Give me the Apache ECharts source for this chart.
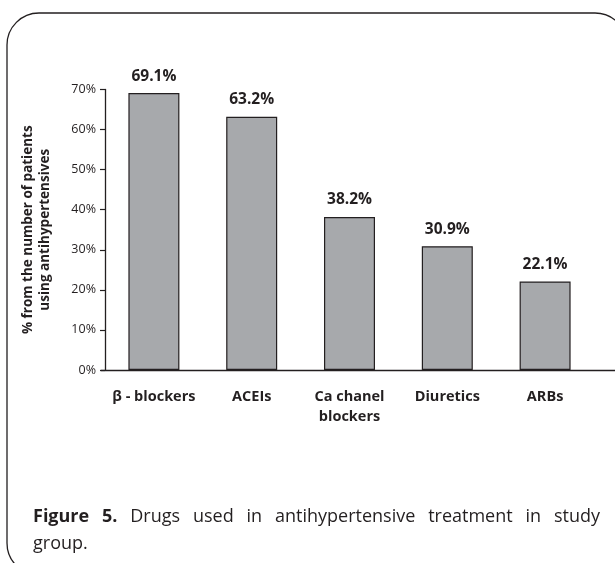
<!DOCTYPE html>
<html>
<head>
<meta charset="utf-8">
<style>
  html, body { margin: 0; padding: 0; background: #fff; }
  #chart { width: 615px; height: 563px; }
</style>
<script src="https://cdn.jsdelivr.net/npm/echarts@6/dist/echarts.min.js"></script>
</head>
<body>
<div id="chart"></div>
<script>
// Drug classes and share of patients on antihypertensives (%)
const categories = ['β - blockers', 'ACEIs', 'Ca chanel\nblockers', 'Diuretics', 'ARBs'];
const shares = [69.1, 63.2, 38.2, 30.9, 22.1];
const yTicks = { min: 0, max: 70, step: 10 };

const captionLead = 'Figure 5.';
const captionLine1 = 'Drugs used in antihypertensive treatment in study';
const captionLine2 = 'group.';

const FONT = '"Open Sans", "Noto Sans", sans-serif';
const INK = '#231f20';

const chart = echarts.init(document.getElementById('chart'), null, { renderer: 'canvas' });

// Lay out a justified caption line word by word
const ctx = document.createElement('canvas').getContext('2d');
function measure(text, weight, size) {
  ctx.font = weight + ' ' + size + 'px ' + FONT;
  return ctx.measureText(text).width;
}
function justifiedWords(words, left, right, y, size) {
  const widths = words.map(w => measure(w.text, w.bold ? 'bold' : 'normal', size));
  const total = widths.reduce((a, b) => a + b, 0);
  const gap = (right - left - total) / (words.length - 1);
  let x = left;
  return words.map((w, i) => {
    const el = {
      type: 'text', x: x, y: y,
      style: { text: w.text, font: (w.bold ? 'bold ' : '') + size + 'px ' + FONT,
               fill: INK, textVerticalAlign: 'middle', verticalAlign: 'middle' }
    };
    x += widths[i] + gap;
    return el;
  });
}
const capSize = 18;
const leadWords = captionLead.split(' ').map(t => ({ text: t, bold: true }));
const restWords = captionLine1.split(' ').map(t => ({ text: t, bold: false }));
const captionEls = justifiedWords(leadWords.concat(restWords), 33, 600, 517, capSize);
captionEls.push({
  type: 'text', x: 33, y: 544,
  style: { text: captionLine2, font: capSize + 'px ' + FONT, fill: INK,
           textVerticalAlign: 'middle', verticalAlign: 'middle' }
});

const option = {
  animation: false,
  backgroundColor: '#fff',
  graphic: [
    {
      type: 'rect', z: -1, silent: true,
      shape: { x: 7, y: 13, width: 620, height: 562, r: 32 },
      style: { fill: 'none', stroke: INK, lineWidth: 1.3 }
    }
  ].concat(captionEls),
  grid: [
    { left: 105, right: 21, top: 89.5, bottom: 193 },
    { left: 101, right: 0, top: 89.5, bottom: 193 }
  ],
  xAxis: [
    {
      type: 'category', gridIndex: 0, data: categories,
      axisLine: { show: false },
      axisTick: { show: false },
      axisLabel: {
        color: INK, fontFamily: FONT, fontWeight: 'bold', fontSize: 14.5,
        lineHeight: 20, margin: 17, interval: 0
      }
    },
    {
      // baseline rule running across the panel
      type: 'value', gridIndex: 1, min: 0, max: 1,
      axisLine: { show: true, lineStyle: { color: INK, width: 1.3 } },
      axisTick: { show: false }, axisLabel: { show: false }, splitLine: { show: false }
    }
  ],
  yAxis: [
    {
      type: 'value', gridIndex: 0,
      min: yTicks.min, max: yTicks.max, interval: yTicks.step,
      name: '% from the number of patients\nusing antihypertensives',
      nameLocation: 'middle', nameGap: 51,
      nameTextStyle: { color: INK, fontFamily: FONT, fontWeight: 'bold', fontSize: 13.5, lineHeight: 17 },
      axisLine: { show: true, lineStyle: { color: INK, width: 1.3 } },
      axisTick: { show: true, length: 5, lineStyle: { color: INK, width: 1.2 } },
      axisLabel: { color: INK, fontFamily: FONT, fontSize: 12.5, margin: 9, formatter: '{value}%' },
      splitLine: { show: false }
    },
    { type: 'value', gridIndex: 1, show: false }
  ],
  series: [
    {
      type: 'bar', xAxisIndex: 0, yAxisIndex: 0,
      data: shares, barWidth: 51,
      itemStyle: { color: '#a7a9ac', borderColor: INK, borderWidth: 1.2 },
      label: {
        show: true, position: 'top', distance: 9,
        color: INK, fontFamily: FONT, fontWeight: 'bold', fontSize: 15.5,
        formatter: p => p.value.toFixed(1) + '%'
      }
    }
  ]
};
chart.setOption(option);
</script>
</body>
</html>
